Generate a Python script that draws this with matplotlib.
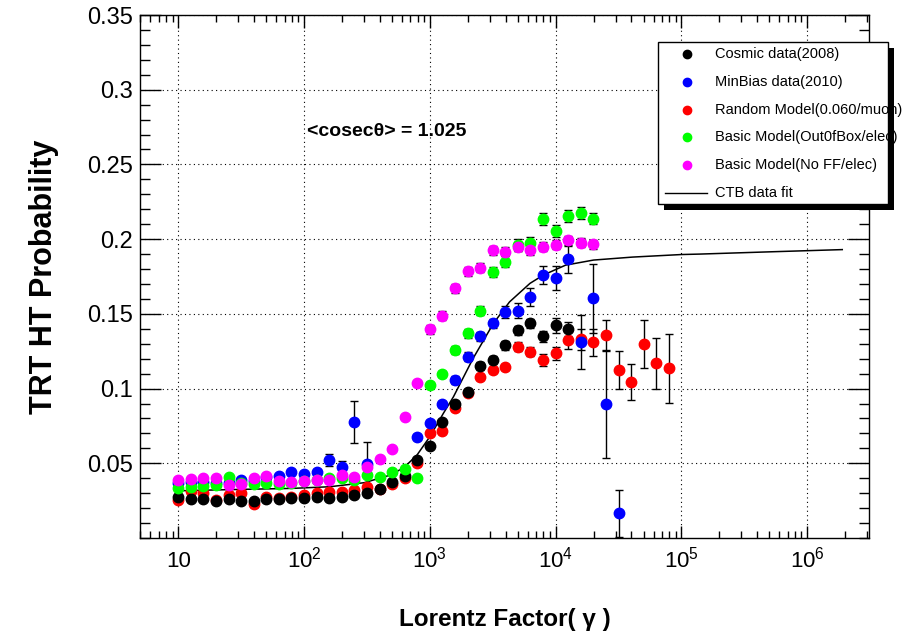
import matplotlib
matplotlib.use("Agg")
import matplotlib.pyplot as plt
from matplotlib.lines import Line2D
from matplotlib.patches import Rectangle
from matplotlib.ticker import FixedLocator, FixedFormatter, LogLocator, MultipleLocator, NullFormatter

plt.rcParams['font.family'] = ['Liberation Sans', 'DejaVu Sans']
plt.rcParams['mathtext.fontset'] = 'custom'
plt.rcParams['mathtext.rm'] = 'Liberation Sans'
plt.rcParams['mathtext.it'] = 'Liberation Sans:italic'
plt.rcParams['mathtext.bf'] = 'Liberation Sans:bold'

# Lorentz factor bins, 10 per decade
gamma = [10, 12.6, 15.8, 20.0, 25.1, 31.6, 39.8, 50.1, 63.1, 79.4,
         100, 126, 158, 200, 251, 316, 398, 501, 631, 794,
         1000, 1259, 1585, 1995, 2512, 3162, 3981, 5012, 6310, 7943,
         10000, 12589, 15849, 19953, 25119, 31623, 39811, 50119, 63096, 79433]

cosmic = [0.0272, 0.0259, 0.0260, 0.0249, 0.0259, 0.0249, 0.0245, 0.0260, 0.0260, 0.0267,
          0.0269, 0.0272, 0.0268, 0.0276, 0.0288, 0.0303, 0.0326, 0.0372, 0.0415, 0.0520,
          0.0615, 0.0778, 0.0900, 0.0980, 0.1150, 0.1190, 0.1290, 0.1390, 0.1436, 0.1350,
          0.1425, 0.1400]
cosmic_err = [0.0012] * 16 + [0.0015] * 6 + [0.002, 0.002, 0.0025, 0.0025, 0.003, 0.003,
                                             0.003, 0.0035, 0.005, 0.0045]

minbias_gamma = gamma[:16] + gamma[19:36]
minbias = [0.0370, 0.0375, 0.0375, 0.0370, 0.0366, 0.0388, 0.0380, 0.0410, 0.0415, 0.0444,
           0.0428, 0.0444, 0.0520, 0.0477, 0.0774, 0.0495,
           0.0678, 0.0771, 0.0900, 0.1057, 0.1213, 0.1350, 0.1436, 0.1514, 0.1520, 0.1614,
           0.1760, 0.1737, 0.1866, 0.1313, 0.1603, 0.0894, 0.0165]
minbias_err = [0.0015] * 12 + [0.004, 0.004, 0.014, 0.015,
                               0.002, 0.002, 0.002, 0.0025, 0.003, 0.003, 0.003, 0.004, 0.005,
                               0.006, 0.006, 0.008, 0.009, 0.018, 0.023, 0.036, 0.0155]

random_model = [0.0254, 0.0316, 0.0300, 0.0254, 0.0288, 0.0300, 0.0225, 0.0276, 0.0270, 0.0272,
                0.0288, 0.0300, 0.0310, 0.0310, 0.0320, 0.0343, 0.0330, 0.0360, 0.0400, 0.0500,
                0.0700, 0.0716, 0.0870, 0.0970, 0.1080, 0.1124, 0.1146, 0.1280, 0.1246, 0.1190,
                0.1235, 0.1325, 0.1330, 0.1310, 0.1358, 0.1124, 0.1045, 0.1300, 0.1170, 0.1135]
random_err = [0.0015] * 20 + [0.002] * 7 + [0.003, 0.003, 0.004, 0.0045, 0.006, 0.007, 0.009,
                                            0.010, 0.013, 0.012, 0.016, 0.017, 0.023]

outofbox = [0.0336, 0.0343, 0.0348, 0.0355, 0.0405, 0.0370, 0.0360, 0.0370, 0.0360, 0.0370,
            0.0380, 0.0390, 0.0400, 0.0400, 0.0390, 0.0420, 0.0410, 0.0444, 0.0460, 0.0400,
            0.1023, 0.1097, 0.1258, 0.1370, 0.1520, 0.1780, 0.1850, 0.1960, 0.1975, 0.2132,
            0.2056, 0.2154, 0.2176, 0.2138]
outofbox_err = [0.0012] * 20 + [0.002, 0.002, 0.0025, 0.003, 0.003, 0.0035, 0.0035, 0.004,
                                0.004, 0.004, 0.004, 0.004, 0.004, 0.004]

noff = [0.0388, 0.0393, 0.0400, 0.0400, 0.0355, 0.0360, 0.0400, 0.0415, 0.0380, 0.0373,
        0.0380, 0.0388, 0.0388, 0.0421, 0.0410, 0.0473, 0.0528, 0.0593, 0.0811, 0.1040,
        0.1396, 0.1487, 0.1670, 0.1786, 0.1810, 0.1926, 0.1915, 0.1950, 0.1926, 0.1950,
        0.1964, 0.1993, 0.1975, 0.1967]
noff_err = [0.0012] * 20 + [0.003] * 14

# CTB data fit
fit_gamma = [10, 30, 80, 160, 300, 480, 620, 790, 1000, 1280, 1540, 2200, 3200, 4300,
             6250, 8000, 12000, 20000, 41000, 100000, 140000, 500000, 1900000]
fit_prob = [0.0316, 0.0325, 0.0332, 0.0343, 0.0370, 0.0420, 0.0470, 0.0555, 0.0678, 0.0834,
            0.0945, 0.1200, 0.1436, 0.1580, 0.1704, 0.1760, 0.1826, 0.1860, 0.1880, 0.1897,
            0.1900, 0.1915, 0.1930]

labels = ["Cosmic data(2008)", "MinBias data(2010)", "Random Model(0.060/muon)",
          "Basic Model(Out0fBox/elec)", "Basic Model(No FF/elec)", "CTB data fit"]
colors = ["#000000", "#0000ff", "#ff0000", "#00ff00", "#ff00ff"]

W, H = 917, 639
fig = plt.figure(figsize=(W / 100, H / 100), dpi=100)
ax = fig.add_axes([140 / W, 1 - 538 / H, (869 - 140) / W, (538 - 15) / H])


def pts(xs, ys, es, c):
    ax.errorbar(xs, ys, yerr=es, fmt='o', ms=7.5, color=c, mec=c, ecolor='black',
                elinewidth=1, capsize=3, capthick=1)


pts(gamma[:40], random_model, random_err, colors[2])
pts(gamma[:32], cosmic, cosmic_err, colors[0])
pts(minbias_gamma, minbias, minbias_err, colors[1])
pts(gamma[:34], outofbox, outofbox_err, colors[3])
pts(gamma[:34], noff, noff_err, colors[4])
ax.plot(fit_gamma, fit_prob, color='black', lw=1.1)

ax.set_xscale('log')
ax.set_xlim(4.96, 3.1e6)
ax.set_ylim(0, 0.35)

ax.xaxis.set_major_locator(FixedLocator([10, 1e2, 1e3, 1e4, 1e5, 1e6]))
ax.xaxis.set_major_formatter(FixedFormatter(['10', '$10^{2}$', '$10^{3}$', '$10^{4}$',
                                             '$10^{5}$', '$10^{6}$']))
ax.xaxis.set_minor_locator(LogLocator(base=10, subs=range(2, 10), numticks=20))
ax.xaxis.set_minor_formatter(NullFormatter())
ax.yaxis.set_major_locator(FixedLocator([0.05, 0.1, 0.15, 0.2, 0.25, 0.3, 0.35]))
ax.yaxis.set_major_formatter(FixedFormatter(['0.05', '0.1', '0.15', '0.2', '0.25', '0.3', '0.35']))
ax.yaxis.set_minor_locator(MultipleLocator(0.01))

ax.tick_params(which='both', direction='in', top=True, right=True, width=1, colors='black')
ax.tick_params(axis='x', which='major', length=9, labelsize=16, pad=21)
ax.tick_params(axis='x', which='minor', length=5)
ax.tick_params(axis='y', which='major', length=15, labelsize=17, pad=5)
ax.tick_params(axis='y', which='minor', length=7.5)
for s in ax.spines.values():
    s.set_linewidth(1)
# all x labels sit on one baseline, like the ROOT axis
for lbl in ax.get_xticklabels():
    lbl.set_verticalalignment('baseline')

ax.grid(True, which='major', color='black', linestyle=(0, (1, 3)), linewidth=0.8)

ax.set_ylabel('TRT HT Probability', fontsize=22, fontweight='bold', labelpad=20)
ax.set_xlabel('Lorentz Factor( γ )', fontsize=17.5, fontweight='bold', labelpad=26)

ax.text(105, 0.272, '<cosecθ> = 1.025', fontsize=14, fontweight='bold', va='center')


# legend box drawn by hand (sticks out past the frame, ROOT style)
def fx(x):
    return x / W


def fy(y):
    return 1 - y / H


bx0, by0, bx1, by1 = 658, 42, 888, 204
fig.patches.append(Rectangle((fx(bx0), fy(by1)), fx(bx1) - fx(bx0), fy(by0) - fy(by1),
                             transform=fig.transFigure, facecolor='white',
                             edgecolor='black', lw=1, zorder=5))
rows = [54, 82, 110, 137, 165, 193]
for i, lab in enumerate(labels):
    yy = fy(rows[i])
    if i < 5:
        fig.add_artist(Line2D([fx(687)], [yy], marker='o', ms=6, color=colors[i],
                              mec=colors[i], ls='none', zorder=6))
    else:
        fig.add_artist(Line2D([fx(665), fx(707)], [yy, yy], color='black', lw=1, zorder=6))
    fig.text(fx(715), yy, lab, fontsize=10.5, va='center', ha='left', zorder=6)
# shadow on top, hides the overflowing text like the original
fig.patches.append(Rectangle((fx(bx1), fy(by1 + 6)), fx(bx1 + 6) - fx(bx1), fy(by0 + 6) - fy(by1 + 6),
                             transform=fig.transFigure, facecolor='black', lw=0, zorder=7))
fig.patches.append(Rectangle((fx(bx0 + 6), fy(by1 + 6)), fx(bx1 + 6) - fx(bx0 + 6), fy(by1) - fy(by1 + 6),
                             transform=fig.transFigure, facecolor='black', lw=0, zorder=7))

fig.savefig('out.png', dpi=100)
